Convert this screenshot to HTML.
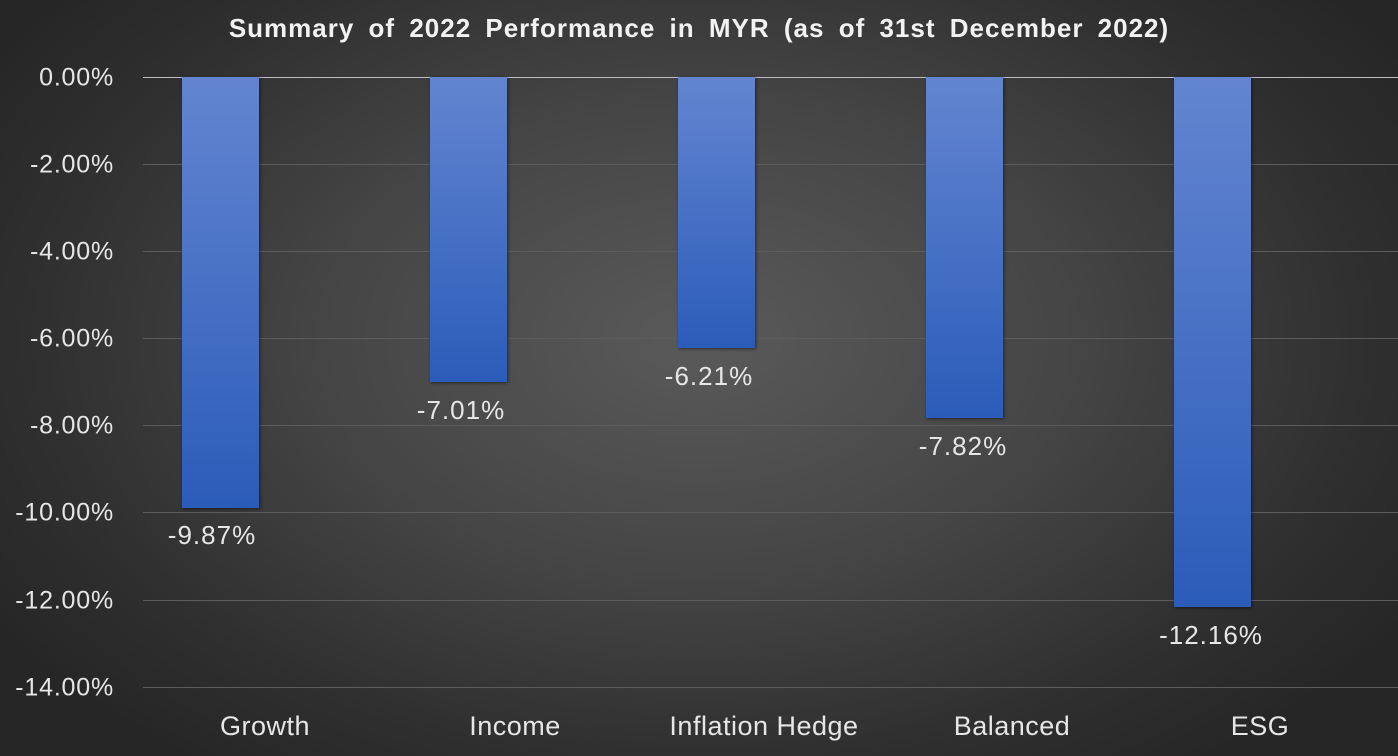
<!DOCTYPE html>
<html><head><style>
body{margin:0;}
#c{width:1398px;height:756px;position:relative;overflow:hidden;
background:radial-gradient(ellipse 60% 70% at 50% 45%,#5a5a5a 0%,#454545 45%,#2f2f2f 80%,#262626 100%);
font-family:"Liberation Sans",sans-serif;color:#e6e6e6;}
.t{position:absolute;top:13px;left:0;width:1398px;text-align:center;font-weight:bold;font-size:26px;color:#f2f2f2;word-spacing:6px;letter-spacing:1px}
.g{position:absolute;left:143px;width:1255px;height:1px;background:#5c5c5c}
.y{position:absolute;right:1284px;font-size:25px;letter-spacing:0.8px;transform:translateY(-50%)}
.b{position:absolute;top:77px;width:77px;background:linear-gradient(#6385d0,#2b5cb9);box-shadow:1px 1px 3px rgba(0,0,0,.5)}
.d{position:absolute;font-size:26px;letter-spacing:1px;transform:translateX(-50%);white-space:nowrap}
.x{position:absolute;top:711px;font-size:27px;transform:translateX(-50%);white-space:nowrap;letter-spacing:0.5px}
</style></head><body><div id="c">
<div class="t">Summary of 2022 Performance in MYR (as of 31st December 2022)</div>
<div class="g" style="top:77px;background:#bdbdbd"></div>
<div class="g" style="top:164px"></div><div class="g" style="top:251px"></div>
<div class="g" style="top:338px"></div><div class="g" style="top:425px"></div>
<div class="g" style="top:512px"></div><div class="g" style="top:600px"></div>
<div class="g" style="top:687px"></div>
<div class="y" style="top:78px">0.00%</div><div class="y" style="top:165px">-2.00%</div>
<div class="y" style="top:252px">-4.00%</div><div class="y" style="top:339px">-6.00%</div>
<div class="y" style="top:426px">-8.00%</div><div class="y" style="top:513px">-10.00%</div>
<div class="y" style="top:601px">-12.00%</div><div class="y" style="top:688px">-14.00%</div>
<div class="b" style="left:182px;height:431px"></div>
<div class="b" style="left:430px;height:305px"></div>
<div class="b" style="left:678px;height:271px"></div>
<div class="b" style="left:926px;height:341px"></div>
<div class="b" style="left:1174px;height:530px"></div>
<div class="d" style="left:212px;top:520px">-9.87%</div>
<div class="d" style="left:461px;top:395px">-7.01%</div>
<div class="d" style="left:709px;top:361px">-6.21%</div>
<div class="d" style="left:963px;top:431px">-7.82%</div>
<div class="d" style="left:1211px;top:620px">-12.16%</div>
<div class="x" style="left:265px">Growth</div>
<div class="x" style="left:515px">Income</div>
<div class="x" style="left:764px">Inflation Hedge</div>
<div class="x" style="left:1012px">Balanced</div>
<div class="x" style="left:1260px">ESG</div>
</div></body></html>
